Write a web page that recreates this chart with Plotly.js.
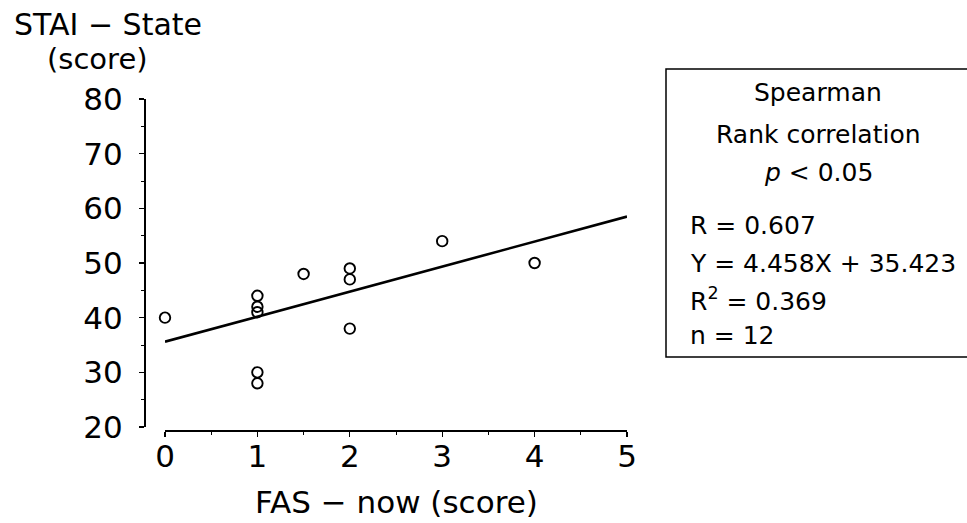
<!DOCTYPE html>
<html>
<head>
<meta charset="utf-8">
<script src="https://cdn.plot.ly/plotly-3.0.1.min.js"></script>
<style>html,body{margin:0;padding:0;background:#fff;}#chart{width:967px;height:523px;}</style>
</head>
<body>
<div id="chart"></div>
<script>
// FAS - now (score) vs STAI - State (score), n = 12
const fasNow = [0, 1, 1, 1, 1, 1, 1.5, 2, 2, 2, 3, 4];
const staiState = [40, 44, 42, 41, 30, 28, 48, 49, 47, 38, 54, 50];
// regression line endpoints as drawn
const fitX = [0, 5];
const fitY = [35.6, 58.5];
const xTicks = [0, 1, 2, 3, 4, 5];
const yTicks = [20, 30, 40, 50, 60, 70, 80];
const statLines = ["Spearman", "Rank correlation", "<i>p</i> < 0.05"];
const fitLines = ["R = 0.607", "Y = 4.458X + 35.423", "R<sup>2</sup> = 0.369", "n = 12"];

const W = 967, H = 523;
const px = v => v / W;
const py = v => 1 - v / H;
const FONT = "DejaVu Sans, sans-serif";

const traces = [
  {
    x: fitX, y: fitY, type: "scatter", mode: "lines",
    line: {color: "#000", width: 2.6}, cliponaxis: false, hoverinfo: "skip"
  },
  {
    x: fasNow, y: staiState, type: "scatter", mode: "markers",
    marker: {symbol: "circle-open", size: 10.5, color: "#000", line: {color: "#000", width: 1.9}},
    cliponaxis: false
  }
];

const annotations = [
  {xref: "paper", yref: "paper", x: px(12), y: py(24), xanchor: "left", yanchor: "middle",
   text: "STAI − State", showarrow: false, font: {family: FONT, size: 30, color: "#000"}},
  {xref: "paper", yref: "paper", x: px(97), y: py(59), xanchor: "center", yanchor: "middle",
   text: "(score)", showarrow: false, font: {family: FONT, size: 29, color: "#000"}},
  {xref: "paper", yref: "paper", x: px(396), y: py(502), xanchor: "center", yanchor: "middle",
   text: "FAS − now (score)", showarrow: false, font: {family: FONT, size: 31, color: "#000"}}
];
const centerYs = [92, 135, 173];
statLines.forEach((t, i) => annotations.push({
  xref: "paper", yref: "paper", x: px(818), y: py(centerYs[i]), xanchor: "center", yanchor: "middle",
  text: t, showarrow: false, font: {family: FONT, size: 25, color: "#000"}
}));
const leftYs = [226, 263, 299, 335];
fitLines.forEach((t, i) => annotations.push({
  xref: "paper", yref: "paper", x: px(688), y: py(leftYs[i]), xanchor: "left", yanchor: "middle",
  text: t, showarrow: false, font: {family: FONT, size: 25, color: "#000"}
}));

const layout = {
  width: W, height: H,
  margin: {l: 0, r: 0, t: 0, b: 0},
  paper_bgcolor: "#fff", plot_bgcolor: "rgba(0,0,0,0)",
  showlegend: false,
  font: {family: FONT, color: "#000"},
  xaxis: {
    domain: [px(165), px(627)], range: [0, 5], anchor: "free", position: py(430),
    tickvals: xTicks, ticktext: xTicks.map(String),
    showline: true, linecolor: "#000", linewidth: 1.5,
    ticks: "outside", ticklen: 5, tickwidth: 1.3, tickcolor: "#000",
    minor: {dtick: 0.5, ticks: "outside", ticklen: 3, tickwidth: 1, tickcolor: "#000"},
    showgrid: false, zeroline: false, ticklabelstandoff: -7,
    tickfont: {family: FONT, size: 31, color: "#000"}
  },
  yaxis: {
    domain: [py(427), py(99)], range: [20, 80], anchor: "free", position: px(144),
    tickvals: yTicks, ticktext: yTicks.map(String),
    showline: true, linecolor: "#000", linewidth: 1.5,
    ticks: "outside", ticklen: 5, tickwidth: 1.3, tickcolor: "#000",
    minor: {dtick: 5, ticks: "outside", ticklen: 3, tickwidth: 1, tickcolor: "#000"},
    showgrid: false, zeroline: false, ticklabelstandoff: 10,
    tickfont: {family: FONT, size: 31, color: "#000"}
  },
  shapes: [
    {type: "rect", xref: "paper", yref: "paper", x0: px(666), x1: px(975), y0: py(357), y1: py(69),
     line: {color: "#000", width: 1.5}, fillcolor: "rgba(0,0,0,0)"}
  ],
  annotations: annotations
};

Plotly.newPlot("chart", traces, layout, {displayModeBar: false, staticPlot: true});
</script>
</body>
</html>
